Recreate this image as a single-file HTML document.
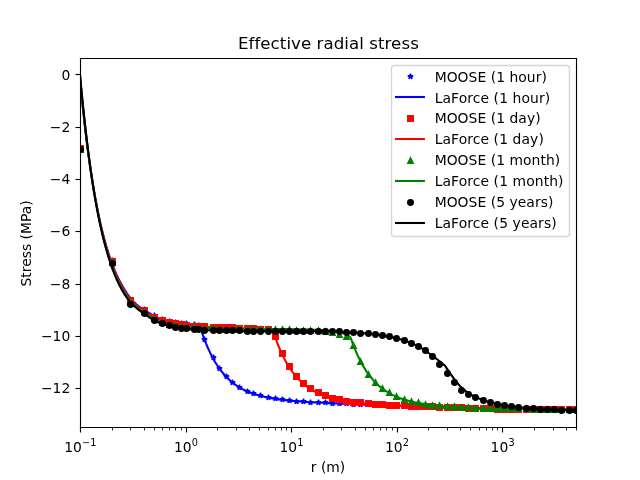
<!DOCTYPE html>
<html lang="en">
<head>
<meta charset="utf-8">
<title>Effective radial stress</title>
<style>
html,body{margin:0;padding:0;background:#ffffff;}
body{width:640px;height:480px;overflow:hidden;}
svg{display:block;}
text{white-space:pre;}
</style>
</head>
<body>
<svg width="640" height="480" viewBox="0 0 640 480">
<defs><clipPath id="axclip"><rect x="80" y="57.6" width="496" height="369.6"/></clipPath></defs>
<rect x="0" y="0" width="640" height="480" fill="#ffffff"/>
<g stroke="#000000" stroke-width="1.11" fill="none">
<path d="M80.5 427V432.5"/>
<path d="M186.5 427V432.5"/>
<path d="M291.5 427V432.5"/>
<path d="M397.5 427V432.5"/>
<path d="M502.5 427V432.5"/>
<path d="M75.5 74.5H80.5"/>
<path d="M75.5 127.5H80.5"/>
<path d="M75.5 179.5H80.5"/>
<path d="M75.5 231.5H80.5"/>
<path d="M75.5 284.5H80.5"/>
<path d="M75.5 336.5H80.5"/>
<path d="M75.5 388.5H80.5"/>
</g>
<g stroke="#000000" stroke-width="0.83" fill="none">
<path d="M112.5 427V430.5"/>
<path d="M130.5 427V430.5"/>
<path d="M144.5 427V430.5"/>
<path d="M154.5 427V430.5"/>
<path d="M162.5 427V430.5"/>
<path d="M169.5 427V430.5"/>
<path d="M175.5 427V430.5"/>
<path d="M181.5 427V430.5"/>
<path d="M217.5 427V430.5"/>
<path d="M236.5 427V430.5"/>
<path d="M249.5 427V430.5"/>
<path d="M259.5 427V430.5"/>
<path d="M268.5 427V430.5"/>
<path d="M275.5 427V430.5"/>
<path d="M281.5 427V430.5"/>
<path d="M286.5 427V430.5"/>
<path d="M323.5 427V430.5"/>
<path d="M341.5 427V430.5"/>
<path d="M355.5 427V430.5"/>
<path d="M365.5 427V430.5"/>
<path d="M373.5 427V430.5"/>
<path d="M380.5 427V430.5"/>
<path d="M386.5 427V430.5"/>
<path d="M392.5 427V430.5"/>
<path d="M428.5 427V430.5"/>
<path d="M447.5 427V430.5"/>
<path d="M460.5 427V430.5"/>
<path d="M470.5 427V430.5"/>
<path d="M479.5 427V430.5"/>
<path d="M486.5 427V430.5"/>
<path d="M492.5 427V430.5"/>
<path d="M497.5 427V430.5"/>
<path d="M534.5 427V430.5"/>
<path d="M553.5 427V430.5"/>
<path d="M566.5 427V430.5"/>
<path d="M576.5 427V430.5"/>
</g>
<g style="font-family:'DejaVu Sans','Liberation Sans',sans-serif;font-size:13.89px" fill="#000000">
<text x="70.28" y="79.59" text-anchor="end">0</text>
<text x="70.28" y="131.89" text-anchor="end">−2</text>
<text x="70.28" y="184.19" text-anchor="end">−4</text>
<text x="70.28" y="236.49" text-anchor="end">−6</text>
<text x="70.28" y="288.79" text-anchor="end">−8</text>
<text x="70.28" y="341.09" text-anchor="end">−10</text>
<text x="70.28" y="393.39" text-anchor="end">−12</text>
<text x="64.28" y="452">10<tspan x="82.09" y="446.1" style="font-size:9.72px">−1</tspan></text>
<text x="173.93" y="452">10<tspan x="191.74" y="446.1" style="font-size:9.72px">0</tspan></text>
<text x="279.49" y="452">10<tspan x="297.29" y="446.1" style="font-size:9.72px">1</tspan></text>
<text x="385.04" y="452">10<tspan x="402.85" y="446.1" style="font-size:9.72px">2</tspan></text>
<text x="490.6" y="452">10<tspan x="508.4" y="446.1" style="font-size:9.72px">3</tspan></text>
<text x="328" y="471.6" text-anchor="middle">r (m)</text>
<text x="31.4" y="243.4" text-anchor="middle" transform="rotate(-90 31.4 243.4)">Stress (MPa)</text>
</g>
<text x="328.4" y="49.27" text-anchor="middle" style="font-family:'DejaVu Sans','Liberation Sans',sans-serif;font-size:16.67px" fill="#000000" letter-spacing="0.045">Effective radial stress</text>
<g clip-path="url(#axclip)">
<g fill="#0000ff" stroke="#0000ff" stroke-width="1.39" stroke-linejoin="miter">
<path d="M80.5 146.72L79.88 148.64L77.86 148.64L79.49 149.83L78.87 151.75L80.5 150.56L82.13 151.75L81.51 149.83L83.14 148.64L81.12 148.64Z" stroke-linejoin="bevel"/>
<path d="M112.5 257.72L111.88 259.64L109.86 259.64L111.49 260.83L110.87 262.75L112.5 261.56L114.13 262.75L113.51 260.83L115.14 259.64L113.12 259.64Z" stroke-linejoin="bevel"/>
<path d="M130.5 297.72L129.88 299.64L127.86 299.64L129.49 300.83L128.87 302.75L130.5 301.56L132.13 302.75L131.51 300.83L133.14 299.64L131.12 299.64Z" stroke-linejoin="bevel"/>
<path d="M144.5 306.72L143.88 308.64L141.86 308.64L143.49 309.83L142.87 311.75L144.5 310.56L146.13 311.75L145.51 309.83L147.14 308.64L145.12 308.64Z" stroke-linejoin="bevel"/>
<path d="M154.5 312.72L153.88 314.64L151.86 314.64L153.49 315.83L152.87 317.75L154.5 316.56L156.13 317.75L155.51 315.83L157.14 314.64L155.12 314.64Z" stroke-linejoin="bevel"/>
<path d="M162.5 316.72L161.88 318.64L159.86 318.64L161.49 319.83L160.87 321.75L162.5 320.56L164.13 321.75L163.51 319.83L165.14 318.64L163.12 318.64Z" stroke-linejoin="bevel"/>
<path d="M169.5 318.72L168.88 320.64L166.86 320.64L168.49 321.83L167.87 323.75L169.5 322.56L171.13 323.75L170.51 321.83L172.14 320.64L170.12 320.64Z" stroke-linejoin="bevel"/>
<path d="M175.5 319.72L174.88 321.64L172.86 321.64L174.49 322.83L173.87 324.75L175.5 323.56L177.13 324.75L176.51 322.83L178.14 321.64L176.12 321.64Z" stroke-linejoin="bevel"/>
<path d="M181.5 320.72L180.88 322.64L178.86 322.64L180.49 323.83L179.87 325.75L181.5 324.56L183.13 325.75L182.51 323.83L184.14 322.64L182.12 322.64Z" stroke-linejoin="bevel"/>
<path d="M186.5 320.72L185.88 322.64L183.86 322.64L185.49 323.83L184.87 325.75L186.5 324.56L188.13 325.75L187.51 323.83L189.14 322.64L187.12 322.64Z" stroke-linejoin="bevel"/>
<path d="M194.5 321.72L193.88 323.64L191.86 323.64L193.49 324.83L192.87 326.75L194.5 325.56L196.13 326.75L195.51 324.83L197.14 323.64L195.12 323.64Z" stroke-linejoin="bevel"/>
<path d="M198.5 322.72L197.88 324.64L195.86 324.64L197.49 325.83L196.87 327.75L198.5 326.56L200.13 327.75L199.51 325.83L201.14 324.64L199.12 324.64Z" stroke-linejoin="bevel"/>
<path d="M204.5 336.72L203.88 338.64L201.86 338.64L203.49 339.83L202.87 341.75L204.5 340.56L206.13 341.75L205.51 339.83L207.14 338.64L205.12 338.64Z" stroke-linejoin="bevel"/>
<path d="M213.5 354.72L212.88 356.64L210.86 356.64L212.49 357.83L211.87 359.75L213.5 358.56L215.13 359.75L214.51 357.83L216.14 356.64L214.12 356.64Z" stroke-linejoin="bevel"/>
<path d="M219.5 365.72L218.88 367.64L216.86 367.64L218.49 368.83L217.87 370.75L219.5 369.56L221.13 370.75L220.51 368.83L222.14 367.64L220.12 367.64Z" stroke-linejoin="bevel"/>
<path d="M226.5 373.72L225.88 375.64L223.86 375.64L225.49 376.83L224.87 378.75L226.5 377.56L228.13 378.75L227.51 376.83L229.14 375.64L227.12 375.64Z" stroke-linejoin="bevel"/>
<path d="M232.5 379.72L231.88 381.64L229.86 381.64L231.49 382.83L230.87 384.75L232.5 383.56L234.13 384.75L233.51 382.83L235.14 381.64L233.12 381.64Z" stroke-linejoin="bevel"/>
<path d="M239.5 384.72L238.88 386.64L236.86 386.64L238.49 387.83L237.87 389.75L239.5 388.56L241.13 389.75L240.51 387.83L242.14 386.64L240.12 386.64Z" stroke-linejoin="bevel"/>
<path d="M247.5 388.72L246.88 390.64L244.86 390.64L246.49 391.83L245.87 393.75L247.5 392.56L249.13 393.75L248.51 391.83L250.14 390.64L248.12 390.64Z" stroke-linejoin="bevel"/>
<path d="M253.5 390.72L252.88 392.64L250.86 392.64L252.49 393.83L251.87 395.75L253.5 394.56L255.13 395.75L254.51 393.83L256.14 392.64L254.12 392.64Z" stroke-linejoin="bevel"/>
<path d="M260.5 392.72L259.88 394.64L257.86 394.64L259.49 395.83L258.87 397.75L260.5 396.56L262.13 397.75L261.51 395.83L263.14 394.64L261.12 394.64Z" stroke-linejoin="bevel"/>
<path d="M268.5 394.72L267.88 396.64L265.86 396.64L267.49 397.83L266.87 399.75L268.5 398.56L270.13 399.75L269.51 397.83L271.14 396.64L269.12 396.64Z" stroke-linejoin="bevel"/>
<path d="M275.5 395.72L274.88 397.64L272.86 397.64L274.49 398.83L273.87 400.75L275.5 399.56L277.13 400.75L276.51 398.83L278.14 397.64L276.12 397.64Z" stroke-linejoin="bevel"/>
<path d="M282.5 396.72L281.88 398.64L279.86 398.64L281.49 399.83L280.87 401.75L282.5 400.56L284.13 401.75L283.51 399.83L285.14 398.64L283.12 398.64Z" stroke-linejoin="bevel"/>
<path d="M289.5 397.72L288.88 399.64L286.86 399.64L288.49 400.83L287.87 402.75L289.5 401.56L291.13 402.75L290.51 400.83L292.14 399.64L290.12 399.64Z" stroke-linejoin="bevel"/>
<path d="M296.5 398.72L295.88 400.64L293.86 400.64L295.49 401.83L294.87 403.75L296.5 402.56L298.13 403.75L297.51 401.83L299.14 400.64L297.12 400.64Z" stroke-linejoin="bevel"/>
<path d="M303.5 398.72L302.88 400.64L300.86 400.64L302.49 401.83L301.87 403.75L303.5 402.56L305.13 403.75L304.51 401.83L306.14 400.64L304.12 400.64Z" stroke-linejoin="bevel"/>
<path d="M310.5 399.72L309.88 401.64L307.86 401.64L309.49 402.83L308.87 404.75L310.5 403.56L312.13 404.75L311.51 402.83L313.14 401.64L311.12 401.64Z" stroke-linejoin="bevel"/>
<path d="M318.5 399.72L317.88 401.64L315.86 401.64L317.49 402.83L316.87 404.75L318.5 403.56L320.13 404.75L319.51 402.83L321.14 401.64L319.12 401.64Z" stroke-linejoin="bevel"/>
<path d="M325.5 399.72L324.88 401.64L322.86 401.64L324.49 402.83L323.87 404.75L325.5 403.56L327.13 404.75L326.51 402.83L328.14 401.64L326.12 401.64Z" stroke-linejoin="bevel"/>
<path d="M332.5 400.72L331.88 402.64L329.86 402.64L331.49 403.83L330.87 405.75L332.5 404.56L334.13 405.75L333.51 403.83L335.14 402.64L333.12 402.64Z" stroke-linejoin="bevel"/>
<path d="M339.5 400.72L338.88 402.64L336.86 402.64L338.49 403.83L337.87 405.75L339.5 404.56L341.13 405.75L340.51 403.83L342.14 402.64L340.12 402.64Z" stroke-linejoin="bevel"/>
<path d="M346.5 400.72L345.88 402.64L343.86 402.64L345.49 403.83L344.87 405.75L346.5 404.56L348.13 405.75L347.51 403.83L349.14 402.64L347.12 402.64Z" stroke-linejoin="bevel"/>
<path d="M353.5 401.72L352.88 403.64L350.86 403.64L352.49 404.83L351.87 406.75L353.5 405.56L355.13 406.75L354.51 404.83L356.14 403.64L354.12 403.64Z" stroke-linejoin="bevel"/>
<path d="M360.5 401.72L359.88 403.64L357.86 403.64L359.49 404.83L358.87 406.75L360.5 405.56L362.13 406.75L361.51 404.83L363.14 403.64L361.12 403.64Z" stroke-linejoin="bevel"/>
<path d="M368.5 401.72L367.88 403.64L365.86 403.64L367.49 404.83L366.87 406.75L368.5 405.56L370.13 406.75L369.51 404.83L371.14 403.64L369.12 403.64Z" stroke-linejoin="bevel"/>
<path d="M375.5 401.72L374.88 403.64L372.86 403.64L374.49 404.83L373.87 406.75L375.5 405.56L377.13 406.75L376.51 404.83L378.14 403.64L376.12 403.64Z" stroke-linejoin="bevel"/>
<path d="M382.5 402.72L381.88 404.64L379.86 404.64L381.49 405.83L380.87 407.75L382.5 406.56L384.13 407.75L383.51 405.83L385.14 404.64L383.12 404.64Z" stroke-linejoin="bevel"/>
<path d="M389.5 402.72L388.88 404.64L386.86 404.64L388.49 405.83L387.87 407.75L389.5 406.56L391.13 407.75L390.51 405.83L392.14 404.64L390.12 404.64Z" stroke-linejoin="bevel"/>
<path d="M396.5 402.72L395.88 404.64L393.86 404.64L395.49 405.83L394.87 407.75L396.5 406.56L398.13 407.75L397.51 405.83L399.14 404.64L397.12 404.64Z" stroke-linejoin="bevel"/>
<path d="M404.5 402.72L403.88 404.64L401.86 404.64L403.49 405.83L402.87 407.75L404.5 406.56L406.13 407.75L405.51 405.83L407.14 404.64L405.12 404.64Z" stroke-linejoin="bevel"/>
<path d="M411.5 403.72L410.88 405.64L408.86 405.64L410.49 406.83L409.87 408.75L411.5 407.56L413.13 408.75L412.51 406.83L414.14 405.64L412.12 405.64Z" stroke-linejoin="bevel"/>
<path d="M418.5 403.72L417.88 405.64L415.86 405.64L417.49 406.83L416.87 408.75L418.5 407.56L420.13 408.75L419.51 406.83L421.14 405.64L419.12 405.64Z" stroke-linejoin="bevel"/>
<path d="M425.5 403.72L424.88 405.64L422.86 405.64L424.49 406.83L423.87 408.75L425.5 407.56L427.13 408.75L426.51 406.83L428.14 405.64L426.12 405.64Z" stroke-linejoin="bevel"/>
<path d="M432.5 403.72L431.88 405.64L429.86 405.64L431.49 406.83L430.87 408.75L432.5 407.56L434.13 408.75L433.51 406.83L435.14 405.64L433.12 405.64Z" stroke-linejoin="bevel"/>
<path d="M439.5 404.72L438.88 406.64L436.86 406.64L438.49 407.83L437.87 409.75L439.5 408.56L441.13 409.75L440.51 407.83L442.14 406.64L440.12 406.64Z" stroke-linejoin="bevel"/>
<path d="M447.5 404.72L446.88 406.64L444.86 406.64L446.49 407.83L445.87 409.75L447.5 408.56L449.13 409.75L448.51 407.83L450.14 406.64L448.12 406.64Z" stroke-linejoin="bevel"/>
<path d="M454.5 404.72L453.88 406.64L451.86 406.64L453.49 407.83L452.87 409.75L454.5 408.56L456.13 409.75L455.51 407.83L457.14 406.64L455.12 406.64Z" stroke-linejoin="bevel"/>
<path d="M461.5 404.72L460.88 406.64L458.86 406.64L460.49 407.83L459.87 409.75L461.5 408.56L463.13 409.75L462.51 407.83L464.14 406.64L462.12 406.64Z" stroke-linejoin="bevel"/>
<path d="M468.5 405.72L467.88 407.64L465.86 407.64L467.49 408.83L466.87 410.75L468.5 409.56L470.13 410.75L469.51 408.83L471.14 407.64L469.12 407.64Z" stroke-linejoin="bevel"/>
<path d="M475.5 405.72L474.88 407.64L472.86 407.64L474.49 408.83L473.87 410.75L475.5 409.56L477.13 410.75L476.51 408.83L478.14 407.64L476.12 407.64Z" stroke-linejoin="bevel"/>
<path d="M483.5 405.72L482.88 407.64L480.86 407.64L482.49 408.83L481.87 410.75L483.5 409.56L485.13 410.75L484.51 408.83L486.14 407.64L484.12 407.64Z" stroke-linejoin="bevel"/>
<path d="M490.5 405.72L489.88 407.64L487.86 407.64L489.49 408.83L488.87 410.75L490.5 409.56L492.13 410.75L491.51 408.83L493.14 407.64L491.12 407.64Z" stroke-linejoin="bevel"/>
<path d="M497.5 406.72L496.88 408.64L494.86 408.64L496.49 409.83L495.87 411.75L497.5 410.56L499.13 411.75L498.51 409.83L500.14 408.64L498.12 408.64Z" stroke-linejoin="bevel"/>
<path d="M504.5 406.72L503.88 408.64L501.86 408.64L503.49 409.83L502.87 411.75L504.5 410.56L506.13 411.75L505.51 409.83L507.14 408.64L505.12 408.64Z" stroke-linejoin="bevel"/>
<path d="M511.5 406.72L510.88 408.64L508.86 408.64L510.49 409.83L509.87 411.75L511.5 410.56L513.13 411.75L512.51 409.83L514.14 408.64L512.12 408.64Z" stroke-linejoin="bevel"/>
<path d="M518.5 406.72L517.88 408.64L515.86 408.64L517.49 409.83L516.87 411.75L518.5 410.56L520.13 411.75L519.51 409.83L521.14 408.64L519.12 408.64Z" stroke-linejoin="bevel"/>
<path d="M526.5 406.72L525.88 408.64L523.86 408.64L525.49 409.83L524.87 411.75L526.5 410.56L528.13 411.75L527.51 409.83L529.14 408.64L527.12 408.64Z" stroke-linejoin="bevel"/>
<path d="M533.5 406.72L532.88 408.64L530.86 408.64L532.49 409.83L531.87 411.75L533.5 410.56L535.13 411.75L534.51 409.83L536.14 408.64L534.12 408.64Z" stroke-linejoin="bevel"/>
<path d="M540.5 406.72L539.88 408.64L537.86 408.64L539.49 409.83L538.87 411.75L540.5 410.56L542.13 411.75L541.51 409.83L543.14 408.64L541.12 408.64Z" stroke-linejoin="bevel"/>
<path d="M547.5 406.72L546.88 408.64L544.86 408.64L546.49 409.83L545.87 411.75L547.5 410.56L549.13 411.75L548.51 409.83L550.14 408.64L548.12 408.64Z" stroke-linejoin="bevel"/>
<path d="M554.5 406.72L553.88 408.64L551.86 408.64L553.49 409.83L552.87 411.75L554.5 410.56L556.13 411.75L555.51 409.83L557.14 408.64L555.12 408.64Z" stroke-linejoin="bevel"/>
<path d="M561.5 406.72L560.88 408.64L558.86 408.64L560.49 409.83L559.87 411.75L561.5 410.56L563.13 411.75L562.51 409.83L564.14 408.64L562.12 408.64Z" stroke-linejoin="bevel"/>
<path d="M569.5 406.72L568.88 408.64L566.86 408.64L568.49 409.83L567.87 411.75L569.5 410.56L571.13 411.75L570.51 409.83L572.14 408.64L570.12 408.64Z" stroke-linejoin="bevel"/>
<path d="M576.5 406.72L575.88 408.64L573.86 408.64L575.49 409.83L574.87 411.75L576.5 410.56L578.13 411.75L577.51 409.83L579.14 408.64L577.12 408.64Z" stroke-linejoin="bevel"/>
</g>
<polyline points="80,79.28 81.66,96.36 83.32,112.24 84.98,127.02 86.64,140.77 88.29,153.56 89.95,165.45 91.61,176.51 93.27,186.8 94.93,196.38 96.59,205.28 98.25,213.56 99.91,221.27 101.57,228.43 103.22,235.1 104.88,241.3 106.54,247.07 108.2,252.43 109.86,257.42 111.52,262.07 113.18,266.46 114.84,270.55 116.49,274.35 118.15,277.88 119.81,281.16 121.47,284.19 123.13,287.16 124.79,289.98 126.45,292.6 128.11,295.01 129.77,297.23 131.42,299.26 133.08,301.13 134.74,302.85 136.4,304.44 138.06,305.83 139.72,307 141.38,308.12 143.04,309.22 144.7,310.3 146.35,311.38 148.01,312.45 149.67,313.5 151.33,314.51 152.99,315.46 154.65,316.35 156.31,317.16 157.97,317.9 159.63,318.56 161.28,319.14 162.94,319.68 164.6,320.18 166.26,320.64 167.92,321.05 169.58,321.42 171.24,321.77 172.9,322.08 174.56,322.38 176.21,322.65 177.87,322.9 179.53,323.14 181.19,323.35 182.85,323.56 184.51,323.75 186.17,323.93 187.83,324.11 189.48,324.29 191.14,324.45 192.8,324.61 194.46,324.76 196.12,324.91 197.78,325.07 199.44,325.27 199.65,325.36 201.1,329.9 202.76,334.78 204.41,339.33 206.07,343.56 207.73,347.5 209.39,351.16 211.05,354.58 212.71,357.76 214.37,360.72 216.03,363.48 217.69,366.06 219.34,368.45 221,370.68 222.66,372.77 224.32,374.71 225.98,376.51 227.64,378.2 229.3,379.77 230.96,381.24 232.62,382.61 234.27,383.88 235.93,385.08 237.59,386.19 239.25,387.23 240.91,388.2 242.57,389.1 244.23,389.95 245.89,390.74 247.55,391.48 249.2,392.18 250.86,392.83 252.52,393.43 254.18,394 255.84,394.54 257.5,395.04 259.16,395.51 260.82,395.95 262.47,396.36 264.13,396.75 265.79,397.11 267.45,397.46 269.11,397.78 270.77,398.09 272.43,398.38 273.09,398.49 274.09,398.65 275.75,398.91 277.4,399.15 279.06,399.38 280.72,399.6 282.38,399.81 284.04,400 285.7,400.19 287.36,400.37 289.02,400.54 290.68,400.7 292.33,400.85 293.99,401 295.65,401.14 297.31,401.28 298.97,401.41 300.63,401.53 302.29,401.65 303.95,401.77 305.61,401.88 307.26,401.99 308.92,402.09 310.58,402.19 312.24,402.29 313.9,402.39 315.56,402.48 317.22,402.57 318.88,402.66 320.54,402.74 322.19,402.83 323.85,402.91 325.51,402.99 327.17,403.07 328.83,403.15 330.49,403.22 332.15,403.3 333.81,403.37 335.46,403.44 337.12,403.51 338.78,403.58 340.44,403.65 342.1,403.72 343.76,403.79 345.42,403.86 347.08,403.92 348.74,403.99 350.39,404.05 351.09,404.08 352.05,404.12 353.71,404.18 355.37,404.25 357.03,404.31 358.69,404.37 360.35,404.44 362.01,404.5 363.67,404.56 365.32,404.62 366.98,404.68 368.64,404.74 370.3,404.8 371.96,404.86 373.62,404.92 375.28,404.98 376.94,405.04 378.6,405.1 380.25,405.16 381.91,405.22 383.57,405.28 385.23,405.34 386.89,405.4 388.55,405.46 390.21,405.52 391.87,405.58 393.53,405.64 395.18,405.7 396.84,405.75 398.5,405.81 400.16,405.87 401.82,405.93 403.48,405.99 405.14,406.05 406.8,406.1 408.45,406.16 410.11,406.22 411.77,406.28 413.43,406.34 415.09,406.39 416.75,406.45 418.41,406.51 420.07,406.57 421.73,406.63 423.38,406.68 425.04,406.74 426.7,406.8 428.36,406.86 430.02,406.91 431.68,406.97 433.34,407.03 435,407.09 436.66,407.15 438.31,407.2 439.97,407.26 441.63,407.32 443.29,407.38 444.95,407.43 445,407.44 446.61,407.49 448.27,407.55 449.93,407.61 451.59,407.66 453.24,407.72 454.9,407.78 456.56,407.84 458.22,407.9 459.88,407.95 461.54,408.01 463.2,408.07 464.86,408.13 466.52,408.18 468.17,408.24 469.83,408.3 471.49,408.36 473.15,408.41 474.81,408.47 476.47,408.53 478.13,408.59 479.79,408.64 481.44,408.7 483.1,408.76 484.76,408.82 486.42,408.87 488.08,408.93 489.74,408.99 491.4,409.03 493.06,409.03 494.72,409.03 496.37,409.03 498.03,409.03 499.69,409.03 501.35,409.03 503.01,409.03 504.67,409.03 506.33,409.03 507.99,409.03 509.65,409.03 511.3,409.03 512.96,409.03 514.62,409.03 516.28,409.03 517.94,409.03 519.6,409.03 521.26,409.03 522.92,409.03 524.58,409.03 526.23,409.03 527.89,409.03 529.55,409.03 531.21,409.03 532.87,409.03 534.53,409.03 536.19,409.03 537.85,409.03 539.51,409.03 541.16,409.03 542.82,409.03 544.48,409.03 546.14,409.03 547.8,409.03 549.46,409.03 551.12,409.03 552.78,409.03 554.43,409.03 556.09,409.03 557.75,409.03 559.41,409.03 561.07,409.03 562.73,409.03 564.39,409.03 566.05,409.03 567.71,409.03 569.36,409.03 571.02,409.03 572.68,409.03 574.34,409.03 576,409.03" fill="none" stroke="#0000ff" stroke-width="2.08" stroke-linejoin="round" stroke-linecap="square"/>
<g fill="#ff0000" stroke="#ff0000" stroke-width="1.39" stroke-linejoin="miter">
<rect x="77.72" y="145.72" width="5.56" height="5.56"/>
<rect x="109.72" y="258.72" width="5.56" height="5.56"/>
<rect x="127.72" y="297.72" width="5.56" height="5.56"/>
<rect x="141.72" y="307.72" width="5.56" height="5.56"/>
<rect x="151.72" y="314.72" width="5.56" height="5.56"/>
<rect x="159.72" y="317.72" width="5.56" height="5.56"/>
<rect x="166.72" y="319.72" width="5.56" height="5.56"/>
<rect x="172.72" y="320.72" width="5.56" height="5.56"/>
<rect x="178.72" y="321.72" width="5.56" height="5.56"/>
<rect x="183.72" y="322.72" width="5.56" height="5.56"/>
<rect x="191.72" y="323.72" width="5.56" height="5.56"/>
<rect x="195.72" y="323.72" width="5.56" height="5.56"/>
<rect x="201.72" y="323.72" width="5.56" height="5.56"/>
<rect x="210.72" y="324.72" width="5.56" height="5.56"/>
<rect x="216.72" y="324.72" width="5.56" height="5.56"/>
<rect x="223.72" y="324.72" width="5.56" height="5.56"/>
<rect x="229.72" y="324.72" width="5.56" height="5.56"/>
<rect x="236.72" y="325.72" width="5.56" height="5.56"/>
<rect x="244.72" y="325.72" width="5.56" height="5.56"/>
<rect x="250.72" y="325.72" width="5.56" height="5.56"/>
<rect x="257.72" y="326.72" width="5.56" height="5.56"/>
<rect x="265.72" y="326.72" width="5.56" height="5.56"/>
<rect x="272.72" y="333.72" width="5.56" height="5.56"/>
<rect x="279.72" y="350.72" width="5.56" height="5.56"/>
<rect x="286.72" y="363.72" width="5.56" height="5.56"/>
<rect x="293.72" y="373.72" width="5.56" height="5.56"/>
<rect x="300.72" y="380.72" width="5.56" height="5.56"/>
<rect x="307.72" y="385.72" width="5.56" height="5.56"/>
<rect x="315.72" y="389.72" width="5.56" height="5.56"/>
<rect x="322.72" y="392.72" width="5.56" height="5.56"/>
<rect x="329.72" y="395.72" width="5.56" height="5.56"/>
<rect x="336.72" y="396.72" width="5.56" height="5.56"/>
<rect x="343.72" y="398.72" width="5.56" height="5.56"/>
<rect x="350.72" y="399.72" width="5.56" height="5.56"/>
<rect x="357.72" y="399.72" width="5.56" height="5.56"/>
<rect x="365.72" y="400.72" width="5.56" height="5.56"/>
<rect x="372.72" y="401.72" width="5.56" height="5.56"/>
<rect x="379.72" y="401.72" width="5.56" height="5.56"/>
<rect x="386.72" y="402.72" width="5.56" height="5.56"/>
<rect x="393.72" y="402.72" width="5.56" height="5.56"/>
<rect x="401.72" y="402.72" width="5.56" height="5.56"/>
<rect x="408.72" y="403.72" width="5.56" height="5.56"/>
<rect x="415.72" y="403.72" width="5.56" height="5.56"/>
<rect x="422.72" y="403.72" width="5.56" height="5.56"/>
<rect x="429.72" y="403.72" width="5.56" height="5.56"/>
<rect x="436.72" y="404.72" width="5.56" height="5.56"/>
<rect x="444.72" y="404.72" width="5.56" height="5.56"/>
<rect x="451.72" y="404.72" width="5.56" height="5.56"/>
<rect x="458.72" y="404.72" width="5.56" height="5.56"/>
<rect x="465.72" y="405.72" width="5.56" height="5.56"/>
<rect x="472.72" y="405.72" width="5.56" height="5.56"/>
<rect x="480.72" y="405.72" width="5.56" height="5.56"/>
<rect x="487.72" y="405.72" width="5.56" height="5.56"/>
<rect x="494.72" y="406.72" width="5.56" height="5.56"/>
<rect x="501.72" y="406.72" width="5.56" height="5.56"/>
<rect x="508.72" y="406.72" width="5.56" height="5.56"/>
<rect x="515.72" y="406.72" width="5.56" height="5.56"/>
<rect x="523.72" y="406.72" width="5.56" height="5.56"/>
<rect x="530.72" y="406.72" width="5.56" height="5.56"/>
<rect x="537.72" y="406.72" width="5.56" height="5.56"/>
<rect x="544.72" y="406.72" width="5.56" height="5.56"/>
<rect x="551.72" y="406.72" width="5.56" height="5.56"/>
<rect x="558.72" y="406.72" width="5.56" height="5.56"/>
<rect x="566.72" y="406.72" width="5.56" height="5.56"/>
<rect x="573.72" y="406.72" width="5.56" height="5.56"/>
</g>
<polyline points="80,76.4 81.66,93.85 83.32,110.08 84.98,125.18 86.64,139.23 88.29,152.29 89.95,164.44 91.61,175.75 93.27,186.26 94.93,196.04 96.59,205.14 98.25,213.6 99.91,221.48 101.57,228.8 103.22,235.61 104.88,241.94 106.54,247.84 108.2,253.32 109.86,258.42 111.52,263.16 113.18,267.61 114.84,271.75 116.49,275.59 118.15,279.16 119.81,282.48 121.47,285.54 123.13,288.51 124.79,291.31 126.45,293.89 128.11,296.27 129.77,298.46 131.42,300.46 133.08,302.29 134.74,303.97 136.4,305.52 138.06,306.9 139.72,308.09 141.38,309.24 143.04,310.36 144.7,311.47 146.35,312.57 148.01,313.65 149.67,314.72 151.33,315.74 152.99,316.71 154.65,317.62 156.31,318.45 157.97,319.2 159.63,319.87 161.28,320.47 162.94,321.02 164.6,321.53 166.26,322 167.92,322.42 169.58,322.8 171.24,323.16 172.9,323.48 174.56,323.79 176.21,324.07 177.87,324.33 179.53,324.57 181.19,324.79 182.85,325 184.51,325.19 186.17,325.37 187.83,325.56 189.48,325.73 191.14,325.89 192.8,326.04 194.46,326.19 196.12,326.32 197.78,326.44 199.44,326.56 199.65,326.57 201.1,326.67 202.76,326.77 204.41,326.87 206.07,326.96 207.73,327.05 209.39,327.13 211.05,327.21 212.71,327.28 214.37,327.35 216.03,327.41 217.69,327.47 219.34,327.53 221,327.59 222.66,327.64 224.32,327.7 225.98,327.75 227.64,327.8 229.3,327.87 230.96,327.94 232.62,328.01 234.27,328.07 235.93,328.14 237.59,328.21 239.25,328.27 240.91,328.34 242.57,328.41 244.23,328.47 245.89,328.54 247.55,328.61 249.2,328.68 250.86,328.75 252.52,328.83 254.18,328.9 255.84,328.98 257.5,329.06 259.16,329.15 260.82,329.26 262.47,329.37 264.13,329.5 265.79,329.63 267.45,329.79 269.11,329.97 270.77,330.2 272.43,330.57 273.09,331.01 274.09,334.04 275.75,338.81 277.4,343.25 279.06,347.38 280.72,351.23 282.38,354.81 284.04,358.15 285.7,361.26 287.36,364.16 289.02,366.85 290.68,369.37 292.33,371.71 293.99,373.89 295.65,375.92 297.31,377.82 298.97,379.59 300.63,381.24 302.29,382.77 303.95,384.21 305.61,385.55 307.26,386.79 308.92,387.96 310.58,389.05 312.24,390.06 313.9,391.01 315.56,391.9 317.22,392.73 318.88,393.5 320.54,394.23 322.19,394.91 323.85,395.54 325.51,396.14 327.17,396.69 328.83,397.22 330.49,397.71 332.15,398.17 333.81,398.6 335.46,399 337.12,399.38 338.78,399.74 340.44,400.08 342.1,400.4 343.76,400.7 345.42,400.98 347.08,401.25 348.74,401.5 350.39,401.74 351.09,401.84 352.05,401.97 353.71,402.18 355.37,402.38 357.03,402.58 358.69,402.76 360.35,402.94 362.01,403.1 363.67,403.26 365.32,403.41 366.98,403.56 368.64,403.7 370.3,403.83 371.96,403.96 373.62,404.08 375.28,404.2 376.94,404.32 378.6,404.43 380.25,404.53 381.91,404.64 383.57,404.74 385.23,404.84 386.89,404.93 388.55,405.02 390.21,405.11 391.87,405.2 393.53,405.28 395.18,405.37 396.84,405.45 398.5,405.53 400.16,405.61 401.82,405.68 403.48,405.76 405.14,405.83 406.8,405.91 408.45,405.98 410.11,406.05 411.77,406.12 413.43,406.19 415.09,406.26 416.75,406.32 418.41,406.39 420.07,406.46 421.73,406.52 423.38,406.59 425.04,406.65 426.7,406.72 428.36,406.78 430.02,406.84 431.68,406.91 433.34,406.97 435,407.03 436.66,407.09 438.31,407.15 439.97,407.21 441.63,407.28 443.29,407.34 444.95,407.4 445,407.4 446.61,407.46 448.27,407.52 449.93,407.58 451.59,407.64 453.24,407.7 454.9,407.76 456.56,407.81 458.22,407.87 459.88,407.93 461.54,407.99 463.2,408.05 464.86,408.11 466.52,408.17 468.17,408.23 469.83,408.29 471.49,408.34 473.15,408.4 474.81,408.46 476.47,408.52 478.13,408.58 479.79,408.64 481.44,408.69 483.1,408.75 484.76,408.81 486.42,408.87 488.08,408.93 489.74,408.98 491.4,409.02 493.06,409.03 494.72,409.03 496.37,409.03 498.03,409.03 499.69,409.03 501.35,409.03 503.01,409.03 504.67,409.03 506.33,409.03 507.99,409.03 509.65,409.03 511.3,409.03 512.96,409.03 514.62,409.03 516.28,409.03 517.94,409.03 519.6,409.03 521.26,409.03 522.92,409.03 524.58,409.03 526.23,409.03 527.89,409.03 529.55,409.03 531.21,409.03 532.87,409.03 534.53,409.03 536.19,409.03 537.85,409.03 539.51,409.03 541.16,409.03 542.82,409.03 544.48,409.03 546.14,409.03 547.8,409.03 549.46,409.03 551.12,409.03 552.78,409.03 554.43,409.03 556.09,409.03 557.75,409.03 559.41,409.03 561.07,409.03 562.73,409.03 564.39,409.03 566.05,409.03 567.71,409.03 569.36,409.03 571.02,409.03 572.68,409.03 574.34,409.03 576,409.03" fill="none" stroke="#ff0000" stroke-width="2.08" stroke-linejoin="round" stroke-linecap="square"/>
<g fill="#008000" stroke="#008000" stroke-width="1.39" stroke-linejoin="miter">
<path d="M80.5 146.72L77.72 152.28L83.28 152.28Z"/>
<path d="M112.5 259.72L109.72 265.28L115.28 265.28Z"/>
<path d="M130.5 299.72L127.72 305.28L133.28 305.28Z"/>
<path d="M144.5 308.72L141.72 314.28L147.28 314.28Z"/>
<path d="M154.5 315.72L151.72 321.28L157.28 321.28Z"/>
<path d="M162.5 319.72L159.72 325.28L165.28 325.28Z"/>
<path d="M169.5 321.72L166.72 327.28L172.28 327.28Z"/>
<path d="M175.5 322.72L172.72 328.28L178.28 328.28Z"/>
<path d="M181.5 323.72L178.72 329.28L184.28 329.28Z"/>
<path d="M186.5 324.72L183.72 330.28L189.28 330.28Z"/>
<path d="M194.5 324.72L191.72 330.28L197.28 330.28Z"/>
<path d="M198.5 325.72L195.72 331.28L201.28 331.28Z"/>
<path d="M204.5 325.72L201.72 331.28L207.28 331.28Z"/>
<path d="M213.5 325.72L210.72 331.28L216.28 331.28Z"/>
<path d="M219.5 326.72L216.72 332.28L222.28 332.28Z"/>
<path d="M226.5 326.72L223.72 332.28L229.28 332.28Z"/>
<path d="M232.5 326.72L229.72 332.28L235.28 332.28Z"/>
<path d="M239.5 326.72L236.72 332.28L242.28 332.28Z"/>
<path d="M247.5 326.72L244.72 332.28L250.28 332.28Z"/>
<path d="M253.5 326.72L250.72 332.28L256.28 332.28Z"/>
<path d="M260.5 326.72L257.72 332.28L263.28 332.28Z"/>
<path d="M268.5 326.72L265.72 332.28L271.28 332.28Z"/>
<path d="M275.5 326.72L272.72 332.28L278.28 332.28Z"/>
<path d="M282.5 326.72L279.72 332.28L285.28 332.28Z"/>
<path d="M289.5 326.72L286.72 332.28L292.28 332.28Z"/>
<path d="M296.5 327.72L293.72 333.28L299.28 333.28Z"/>
<path d="M303.5 327.72L300.72 333.28L306.28 333.28Z"/>
<path d="M310.5 327.72L307.72 333.28L313.28 333.28Z"/>
<path d="M318.5 327.72L315.72 333.28L321.28 333.28Z"/>
<path d="M325.5 328.72L322.72 334.28L328.28 334.28Z"/>
<path d="M332.5 329.72L329.72 335.28L335.28 335.28Z"/>
<path d="M339.5 331.72L336.72 337.28L342.28 337.28Z"/>
<path d="M346.5 333.72L343.72 339.28L349.28 339.28Z"/>
<path d="M353.5 342.72L350.72 348.28L356.28 348.28Z"/>
<path d="M360.5 358.72L357.72 364.28L363.28 364.28Z"/>
<path d="M368.5 371.72L365.72 377.28L371.28 377.28Z"/>
<path d="M375.5 379.72L372.72 385.28L378.28 385.28Z"/>
<path d="M382.5 385.72L379.72 391.28L385.28 391.28Z"/>
<path d="M389.5 389.72L386.72 395.28L392.28 395.28Z"/>
<path d="M396.5 393.72L393.72 399.28L399.28 399.28Z"/>
<path d="M404.5 396.72L401.72 402.28L407.28 402.28Z"/>
<path d="M411.5 398.72L408.72 404.28L414.28 404.28Z"/>
<path d="M418.5 399.72L415.72 405.28L421.28 405.28Z"/>
<path d="M425.5 401.72L422.72 407.28L428.28 407.28Z"/>
<path d="M432.5 402.72L429.72 408.28L435.28 408.28Z"/>
<path d="M439.5 402.72L436.72 408.28L442.28 408.28Z"/>
<path d="M447.5 403.72L444.72 409.28L450.28 409.28Z"/>
<path d="M454.5 403.72L451.72 409.28L457.28 409.28Z"/>
<path d="M461.5 404.72L458.72 410.28L464.28 410.28Z"/>
<path d="M468.5 404.72L465.72 410.28L471.28 410.28Z"/>
<path d="M475.5 405.72L472.72 411.28L478.28 411.28Z"/>
<path d="M483.5 405.72L480.72 411.28L486.28 411.28Z"/>
<path d="M490.5 405.72L487.72 411.28L493.28 411.28Z"/>
<path d="M497.5 405.72L494.72 411.28L500.28 411.28Z"/>
<path d="M504.5 405.72L501.72 411.28L507.28 411.28Z"/>
<path d="M511.5 405.72L508.72 411.28L514.28 411.28Z"/>
<path d="M518.5 405.72L515.72 411.28L521.28 411.28Z"/>
<path d="M526.5 405.72L523.72 411.28L529.28 411.28Z"/>
<path d="M533.5 406.72L530.72 412.28L536.28 412.28Z"/>
<path d="M540.5 406.72L537.72 412.28L543.28 412.28Z"/>
<path d="M547.5 406.72L544.72 412.28L550.28 412.28Z"/>
<path d="M554.5 406.72L551.72 412.28L557.28 412.28Z"/>
<path d="M561.5 406.72L558.72 412.28L564.28 412.28Z"/>
<path d="M569.5 406.72L566.72 412.28L572.28 412.28Z"/>
<path d="M576.5 406.72L573.72 412.28L579.28 412.28Z"/>
</g>
<polyline points="80,76.66 81.66,94.27 83.32,110.64 84.98,125.87 86.64,140.04 88.29,153.22 89.95,165.47 91.61,176.88 93.27,187.48 94.93,197.35 96.59,206.53 98.25,215.06 99.91,223 101.57,230.39 103.22,237.26 104.88,243.65 106.54,249.59 108.2,255.12 109.86,260.27 111.52,265.05 113.18,269.52 114.84,273.67 116.49,277.54 118.15,281.12 119.81,284.45 121.47,287.54 123.13,290.46 124.79,293.18 126.45,295.7 128.11,298.01 129.77,300.12 131.42,302.05 133.08,303.81 134.74,305.42 136.4,306.9 138.06,308.24 139.72,309.47 141.38,310.65 143.04,311.8 144.7,312.94 146.35,314.07 148.01,315.2 149.67,316.29 151.33,317.35 152.99,318.36 154.65,319.3 156.31,320.16 157.97,320.94 159.63,321.65 161.28,322.28 162.94,322.84 164.6,323.34 166.26,323.78 167.92,324.18 169.58,324.55 171.24,324.88 172.9,325.19 174.56,325.47 176.21,325.73 177.87,325.97 179.53,326.2 181.19,326.4 182.85,326.59 184.51,326.76 186.17,326.92 187.83,327.06 189.48,327.2 191.14,327.32 192.8,327.43 194.46,327.54 196.12,327.63 197.78,327.71 199.44,327.79 199.65,327.8 201.1,327.86 202.76,327.92 204.41,327.98 206.07,328.03 207.73,328.08 209.39,328.12 211.05,328.16 212.71,328.19 214.37,328.22 216.03,328.24 217.69,328.27 219.34,328.31 221,328.35 222.66,328.39 224.32,328.43 225.98,328.46 227.64,328.49 229.3,328.52 230.96,328.55 232.62,328.58 234.27,328.6 235.93,328.63 237.59,328.65 239.25,328.67 240.91,328.69 242.57,328.71 244.23,328.72 245.89,328.74 247.55,328.76 249.2,328.77 250.86,328.79 252.52,328.8 254.18,328.81 255.84,328.83 257.5,328.84 259.16,328.85 260.82,328.87 262.47,328.88 264.13,328.89 265.79,328.91 267.45,328.92 269.11,328.93 270.77,328.95 272.43,328.96 273.09,328.97 274.09,328.98 275.75,328.99 277.4,329.01 279.06,329.02 280.72,329.04 282.38,329.06 284.04,329.08 285.7,329.1 287.36,329.12 289.02,329.14 290.68,329.17 292.33,329.19 293.99,329.22 295.65,329.25 297.31,329.28 298.97,329.32 300.63,329.35 302.29,329.39 303.95,329.43 305.61,329.48 307.26,329.53 308.92,329.58 310.58,329.64 312.24,329.7 313.9,329.77 315.56,329.85 317.22,329.93 318.88,330.01 320.54,330.11 322.19,330.21 323.85,330.33 325.51,330.45 327.17,330.59 328.83,330.74 330.49,330.91 332.15,331.1 333.81,331.31 335.46,331.54 337.12,331.81 338.78,332.11 340.44,332.46 342.1,332.86 343.76,333.34 345.42,333.93 347.08,334.67 348.74,335.69 350.39,337.39 351.09,338.86 352.05,341.6 353.71,346.03 355.37,350.15 357.03,353.99 358.69,357.57 360.35,360.9 362.01,364 363.67,366.89 365.32,369.58 366.98,372.09 368.64,374.42 370.3,376.6 371.96,378.63 373.62,380.52 375.28,382.29 376.94,383.93 378.6,385.46 380.25,386.9 381.91,388.23 383.57,389.48 385.23,390.64 386.89,391.72 388.55,392.74 390.21,393.69 391.87,394.57 393.53,395.4 395.18,396.17 396.84,396.89 398.5,397.57 400.16,398.21 401.82,398.8 403.48,399.35 405.14,399.88 406.8,400.37 408.45,400.82 410.11,401.25 411.77,401.66 413.43,402.04 415.09,402.4 416.75,402.73 418.41,403.05 420.07,403.35 421.73,403.63 423.38,403.9 425.04,404.15 426.7,404.39 428.36,404.62 430.02,404.83 431.68,405.03 433.34,405.23 435,405.41 436.66,405.59 438.31,405.75 439.97,405.91 441.63,406.06 443.29,406.21 444.95,406.35 445,406.35 446.61,406.48 448.27,406.61 449.93,406.73 451.59,406.85 453.24,406.97 454.9,407.08 456.56,407.18 458.22,407.29 459.88,407.39 461.54,407.48 463.2,407.58 464.86,407.67 466.52,407.76 468.17,407.85 469.83,407.93 471.49,408.01 473.15,408.1 474.81,408.18 476.47,408.25 478.13,408.33 479.79,408.41 481.44,408.48 483.1,408.55 484.76,408.63 486.42,408.7 488.08,408.77 489.74,408.84 491.4,408.89 493.06,408.9 494.72,408.91 496.37,408.91 498.03,408.92 499.69,408.93 501.35,408.94 503.01,408.94 504.67,408.95 506.33,408.96 507.99,408.96 509.65,408.97 511.3,408.97 512.96,408.97 514.62,408.98 516.28,408.98 517.94,408.98 519.6,408.99 521.26,408.99 522.92,408.99 524.58,409 526.23,409 527.89,409 529.55,409 531.21,409 532.87,409.01 534.53,409.01 536.19,409.01 537.85,409.01 539.51,409.01 541.16,409.01 542.82,409.01 544.48,409.02 546.14,409.02 547.8,409.02 549.46,409.02 551.12,409.02 552.78,409.02 554.43,409.02 556.09,409.02 557.75,409.02 559.41,409.02 561.07,409.02 562.73,409.02 564.39,409.02 566.05,409.02 567.71,409.02 569.36,409.03 571.02,409.03 572.68,409.03 574.34,409.03 576,409.03" fill="none" stroke="#008000" stroke-width="2.08" stroke-linejoin="round" stroke-linecap="square"/>
<g fill="#000000" stroke="#000000" stroke-width="1.39" stroke-linejoin="miter">
<circle cx="80.5" cy="149.5" r="2.78"/>
<circle cx="112.5" cy="263.5" r="2.78"/>
<circle cx="130.5" cy="304.5" r="2.78"/>
<circle cx="144.5" cy="313.5" r="2.78"/>
<circle cx="154.5" cy="320.5" r="2.78"/>
<circle cx="162.5" cy="323.5" r="2.78"/>
<circle cx="169.5" cy="325.5" r="2.78"/>
<circle cx="175.5" cy="327.5" r="2.78"/>
<circle cx="181.5" cy="328.5" r="2.78"/>
<circle cx="186.5" cy="328.5" r="2.78"/>
<circle cx="194.5" cy="329.5" r="2.78"/>
<circle cx="198.5" cy="329.5" r="2.78"/>
<circle cx="204.5" cy="330.5" r="2.78"/>
<circle cx="213.5" cy="330.5" r="2.78"/>
<circle cx="219.5" cy="330.5" r="2.78"/>
<circle cx="226.5" cy="330.5" r="2.78"/>
<circle cx="232.5" cy="330.5" r="2.78"/>
<circle cx="239.5" cy="330.5" r="2.78"/>
<circle cx="247.5" cy="331.5" r="2.78"/>
<circle cx="253.5" cy="331.5" r="2.78"/>
<circle cx="260.5" cy="331.5" r="2.78"/>
<circle cx="268.5" cy="331.5" r="2.78"/>
<circle cx="275.5" cy="331.5" r="2.78"/>
<circle cx="282.5" cy="331.5" r="2.78"/>
<circle cx="289.5" cy="331.5" r="2.78"/>
<circle cx="296.5" cy="331.5" r="2.78"/>
<circle cx="303.5" cy="331.5" r="2.78"/>
<circle cx="310.5" cy="331.5" r="2.78"/>
<circle cx="318.5" cy="331.5" r="2.78"/>
<circle cx="325.5" cy="331.5" r="2.78"/>
<circle cx="332.5" cy="331.5" r="2.78"/>
<circle cx="339.5" cy="331.5" r="2.78"/>
<circle cx="346.5" cy="332.5" r="2.78"/>
<circle cx="353.5" cy="332.5" r="2.78"/>
<circle cx="360.5" cy="333.5" r="2.78"/>
<circle cx="368.5" cy="333.5" r="2.78"/>
<circle cx="375.5" cy="334.5" r="2.78"/>
<circle cx="382.5" cy="335.5" r="2.78"/>
<circle cx="389.5" cy="336.5" r="2.78"/>
<circle cx="396.5" cy="338.5" r="2.78"/>
<circle cx="404.5" cy="340.5" r="2.78"/>
<circle cx="411.5" cy="343.5" r="2.78"/>
<circle cx="418.5" cy="346.5" r="2.78"/>
<circle cx="425.5" cy="350.5" r="2.78"/>
<circle cx="432.5" cy="356.5" r="2.78"/>
<circle cx="439.5" cy="364.5" r="2.78"/>
<circle cx="447.5" cy="373.5" r="2.78"/>
<circle cx="454.5" cy="382.5" r="2.78"/>
<circle cx="461.5" cy="390.5" r="2.78"/>
<circle cx="468.5" cy="394.5" r="2.78"/>
<circle cx="475.5" cy="397.5" r="2.78"/>
<circle cx="483.5" cy="400.5" r="2.78"/>
<circle cx="490.5" cy="402.5" r="2.78"/>
<circle cx="497.5" cy="404.5" r="2.78"/>
<circle cx="504.5" cy="405.5" r="2.78"/>
<circle cx="511.5" cy="406.5" r="2.78"/>
<circle cx="518.5" cy="407.5" r="2.78"/>
<circle cx="526.5" cy="408.5" r="2.78"/>
<circle cx="533.5" cy="408.5" r="2.78"/>
<circle cx="540.5" cy="409.5" r="2.78"/>
<circle cx="547.5" cy="409.5" r="2.78"/>
<circle cx="554.5" cy="409.5" r="2.78"/>
<circle cx="561.5" cy="410.5" r="2.78"/>
<circle cx="569.5" cy="410.5" r="2.78"/>
<circle cx="576.5" cy="410.5" r="2.78"/>
</g>
<polyline points="80,74.31 81.66,92.25 83.32,108.93 84.98,124.45 86.64,138.89 88.29,152.32 89.95,164.81 91.61,176.43 93.27,187.24 94.93,197.29 96.59,206.64 98.25,215.34 99.91,223.43 101.57,230.96 103.22,237.96 104.88,244.47 106.54,250.53 108.2,256.16 109.86,261.4 111.52,266.28 113.18,270.81 114.84,275.03 116.49,278.95 118.15,282.59 119.81,285.97 121.47,289.11 123.13,292.01 124.79,294.69 126.45,297.16 128.11,299.42 129.77,301.49 131.42,303.36 133.08,305.07 134.74,306.62 136.4,308.05 138.06,309.37 139.72,310.61 141.38,311.81 143.04,312.99 144.7,314.15 146.35,315.3 148.01,316.44 149.67,317.55 151.33,318.63 152.99,319.65 154.65,320.6 156.31,321.48 157.97,322.28 159.63,323 161.28,323.65 162.94,324.23 164.6,324.76 166.26,325.23 167.92,325.67 169.58,326.06 171.24,326.43 172.9,326.77 174.56,327.08 176.21,327.37 177.87,327.64 179.53,327.89 181.19,328.13 182.85,328.34 184.51,328.54 186.17,328.73 187.83,328.91 189.48,329.07 191.14,329.22 192.8,329.36 194.46,329.49 196.12,329.61 197.78,329.73 199.44,329.83 199.65,329.85 201.1,329.93 202.76,330.02 204.41,330.11 206.07,330.18 207.73,330.26 209.39,330.33 211.05,330.39 212.71,330.45 214.37,330.5 216.03,330.56 217.69,330.6 219.34,330.65 221,330.69 222.66,330.73 224.32,330.76 225.98,330.8 227.64,330.83 229.3,330.86 230.96,330.88 232.62,330.91 234.27,330.93 235.93,330.95 237.59,330.97 239.25,330.99 240.91,331.01 242.57,331.02 244.23,331.04 245.89,331.05 247.55,331.07 249.2,331.08 250.86,331.09 252.52,331.1 254.18,331.11 255.84,331.12 257.5,331.13 259.16,331.14 260.82,331.15 262.47,331.16 264.13,331.16 265.79,331.17 267.45,331.18 269.11,331.18 270.77,331.19 272.43,331.19 273.09,331.2 274.09,331.2 275.75,331.2 277.4,331.21 279.06,331.21 280.72,331.22 282.38,331.22 284.04,331.23 285.7,331.23 287.36,331.24 289.02,331.24 290.68,331.25 292.33,331.25 293.99,331.26 295.65,331.26 297.31,331.27 298.97,331.27 300.63,331.28 302.29,331.28 303.95,331.29 305.61,331.3 307.26,331.3 308.92,331.31 310.58,331.32 312.24,331.33 313.9,331.33 315.56,331.34 317.22,331.35 318.88,331.36 320.54,331.37 322.19,331.39 323.85,331.4 325.51,331.41 327.17,331.43 328.83,331.44 330.49,331.46 332.15,331.47 333.81,331.49 335.46,331.51 337.12,331.53 338.78,331.56 340.44,331.96 342.1,332.04 343.76,332.11 345.42,332.19 347.08,332.27 348.74,332.36 350.39,332.44 351.09,332.48 352.05,332.53 353.71,332.63 355.37,332.72 357.03,332.82 358.69,332.92 360.35,333.02 362.01,333.14 363.67,333.25 365.32,333.38 366.98,333.51 368.64,333.66 370.3,333.82 371.96,334 373.62,334.2 375.28,334.41 376.94,334.63 378.6,334.86 380.25,335.11 381.91,335.36 383.57,335.62 385.23,335.9 386.89,336.19 388.55,336.5 390.21,336.82 391.87,337.16 393.53,337.52 395.18,337.9 396.84,338.29 398.5,338.72 400.16,339.2 401.82,339.7 403.48,340.24 405.14,340.8 406.8,341.41 408.45,342.06 410.11,342.74 411.77,343.43 413.43,344.14 415.09,344.89 416.75,345.67 418.41,346.51 420.07,347.44 421.73,348.44 423.38,349.49 425.04,350.58 426.7,351.68 428.36,352.82 430.02,354 431.68,355.21 433.34,356.43 435,357.69 436.66,358.97 438.31,360.27 439.97,361.57 441.63,362.89 443.29,364.22 444.95,365.57 445,365.61 446.61,368.09 448.27,370.58 449.93,373 451.59,375.38 453.24,377.7 454.9,379.89 456.56,381.97 458.22,383.99 459.88,385.87 461.54,387.53 463.2,389.04 464.86,390.42 466.52,391.7 468.17,392.86 469.83,393.92 471.49,394.9 473.15,395.8 474.81,396.63 476.47,397.4 478.13,398.11 479.79,398.77 481.44,399.4 483.1,400.01 484.76,400.61 486.42,401.2 488.08,401.75 489.74,402.25 491.4,402.7 493.06,403.1 494.72,403.47 496.37,403.81 498.03,404.12 499.69,404.4 501.35,404.66 503.01,404.9 504.67,405.15 506.33,405.41 507.99,405.66 509.65,405.92 511.3,406.17 512.96,406.41 514.62,406.66 516.28,406.89 517.94,407.11 519.6,407.32 521.26,407.52 522.92,407.72 524.58,407.92 526.23,408.11 527.89,408.29 529.55,408.46 531.21,408.62 532.87,408.77 534.53,408.9 536.19,409.03 537.85,409.15 539.51,409.27 541.16,409.38 542.82,409.48 544.48,409.57 546.14,409.66 547.8,409.73 549.46,409.8 551.12,409.87 552.78,409.93 554.43,409.99 556.09,410.04 557.75,410.09 559.41,410.14 561.07,410.19 562.73,410.23 564.39,410.27 566.05,410.31 567.71,410.35 569.36,410.39 571.02,410.42 572.68,410.45 574.34,410.48 576,410.51" fill="none" stroke="#000000" stroke-width="2.08" stroke-linejoin="round" stroke-linecap="square"/>
</g>
<g stroke="#000000" stroke-width="1.11" fill="none" stroke-linecap="square">
<path d="M80.5 58.5V427.5"/><path d="M576.5 58.5V427.5"/><path d="M80.5 427.5H576.5"/><path d="M80.5 58.5H576.5"/>
</g>
<rect x="391.5" y="65.5" width="178" height="171" rx="2.78" ry="2.78" fill="#ffffff" stroke="#cccccc" stroke-width="1.39" opacity="0.8"/>
<g style="font-family:'DejaVu Sans','Liberation Sans',sans-serif;font-size:13.89px">
<g fill="#0000ff" stroke="#0000ff" stroke-width="1.39"><path d="M410.5 73.72L409.88 75.64L407.86 75.64L409.49 76.83L408.87 78.75L410.5 77.56L412.13 78.75L411.51 76.83L413.14 75.64L411.12 75.64Z" stroke-linejoin="bevel"/></g>
<text x="434.65" y="82" fill="#000000" letter-spacing="0.045">MOOSE (1 hour)</text>
<path d="M396.05 97H423.9" stroke="#0000ff" stroke-width="2.08" stroke-linecap="square" fill="none"/>
<text x="434.65" y="103" fill="#000000" letter-spacing="0.1">LaForce (1 hour)</text>
<g fill="#ff0000" stroke="#ff0000" stroke-width="1.39"><rect x="407.72" y="115.72" width="5.56" height="5.56"/></g>
<text x="434.65" y="123" fill="#000000" letter-spacing="0.045">MOOSE (1 day)</text>
<path d="M396.05 139H423.9" stroke="#ff0000" stroke-width="2.08" stroke-linecap="square" fill="none"/>
<text x="434.65" y="144" fill="#000000" letter-spacing="0.1">LaForce (1 day)</text>
<g fill="#008000" stroke="#008000" stroke-width="1.39"><path d="M410.5 157.72L407.72 163.28L413.28 163.28Z"/></g>
<text x="434.65" y="165" fill="#000000" letter-spacing="0.045">MOOSE (1 month)</text>
<path d="M396.05 181H423.9" stroke="#008000" stroke-width="2.08" stroke-linecap="square" fill="none"/>
<text x="434.65" y="186" fill="#000000" letter-spacing="0.1">LaForce (1 month)</text>
<g fill="#000000" stroke="#000000" stroke-width="1.39"><circle cx="410.5" cy="202.5" r="2.78"/></g>
<text x="434.65" y="207" fill="#000000" letter-spacing="0.045">MOOSE (5 years)</text>
<path d="M396.05 223H423.9" stroke="#000000" stroke-width="2.08" stroke-linecap="square" fill="none"/>
<text x="434.65" y="228" fill="#000000" letter-spacing="0.1">LaForce (5 years)</text>
</g>
</svg>
</body>
</html>
